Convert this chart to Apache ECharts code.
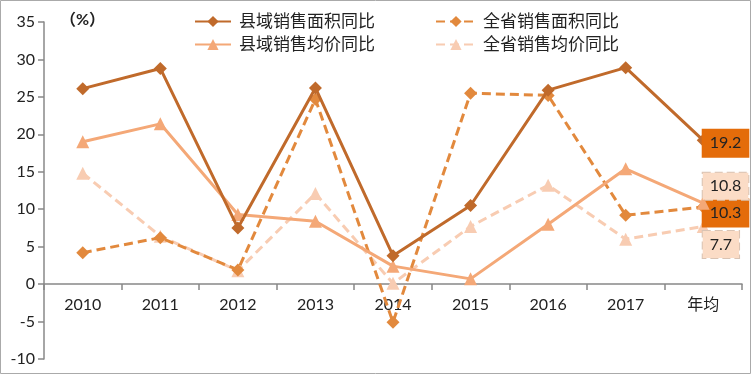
<!DOCTYPE html>
<html><head><meta charset="utf-8">
<script src="https://cdn.jsdelivr.net/npm/echarts@6/dist/echarts.min.js"></script>
<style>html,body{margin:0;padding:0;background:#fff}#c{width:752px;height:375px}</style>
</head><body><div id="c"></div>
<script>
var categories = ['2010','2011','2012','2013','2014','2015','2016','2017','年均'];
var countyArea = [26.1, 28.8, 7.5, 26.2, 3.8, 10.5, 25.9, 28.9, 19.2];
var provArea = [4.2, 6.2, 1.9, 24.7, -5.1, 25.5, 25.2, 9.2, 10.3];
var countyPrice = [19.0, 21.4, 9.3, 8.4, 2.4, 0.7, 8.0, 15.4, 10.8];
var provPrice = [14.8, 6.4, 1.8, 12.1, 0.1, 7.7, 13.2, 6.0, 7.7];
var names = ['县域销售面积同比','县域销售均价同比','全省销售面积同比','全省销售均价同比'];
var yTicks = {min: -10, max: 35, interval: 5};

var FONT = 'Lato, "Noto Sans CJK SC", sans-serif';
function withLabel(arr, bg, dashed, dy){
  return arr.map(function(v,i){
    if(i !== arr.length-1) return v;
    return {value: v, label: {show: true, position: 'right', distance: -7, offset:[0, dy],
      formatter: function(p){return p.value.toFixed(1);},
      backgroundColor: bg, borderColor: dashed ? '#d9c3b3' : bg, borderWidth: 1,
      borderType: dashed ? 'dashed' : 'solid',
      padding: [6, 7, 5, 7],
      color: '#222', fontSize: 16, fontFamily: FONT}};
  });
}
var c1 = '#C06A2B', c2 = '#E2893D', c3 = '#F4A877', c4 = '#F8CCB2';
var chart = echarts.init(document.getElementById('c'));
chart.setOption({
  animation: false,
  grid: {left: 44, right: 10, top: 22, bottom: 16, containLabel: false, outerBoundsMode: 'none'},
  legend: [
    {left: 189, top: 8, orient: 'vertical', itemGap: 6, itemWidth: 36, itemHeight: 14,
     textStyle: {fontSize: 17, color: '#222', fontFamily: FONT, padding: [0, 0, 0, 3]}, data: [names[0], names[1]]},
    {left: 430, top: 8, orient: 'vertical', itemGap: 6, itemWidth: 40, itemHeight: 14,
     textStyle: {fontSize: 17, color: '#222', fontFamily: FONT, padding: [0, 0, 0, 2]}, data: [names[2], names[3]]}
  ],
  xAxis: {type: 'category', data: categories, boundaryGap: true, offset: -75,
    axisLine: {onZero: false, lineStyle: {color: '#888', width: 1.5}},
    axisTick: {show: true, length: 6, lineStyle: {color: '#888', width: 1.5}},
    axisLabel: {color: '#222', fontSize: 16, fontFamily: FONT, margin: 13}},
  yAxis: {type: 'value', min: yTicks.min, max: yTicks.max, interval: yTicks.interval,
    splitLine: {show: false},
    axisLine: {show: true, lineStyle: {color: '#888', width: 1.5}},
    axisTick: {show: true, length: 6, lineStyle: {color: '#888', width: 1.5}},
    axisLabel: {color: '#222', fontSize: 16, fontFamily: FONT, margin: 9}},
  graphic: [
    {type: 'text', left: 60, top: 12, style: {text: '（%）', fontSize: 16, fill: '#222', fontFamily: FONT, fontWeight: 'bold'}},
    {type: 'rect', shape: {x: 0.5, y: 0.5, width: 750, height: 373}, style: {fill: 'none', stroke: '#aaa', lineWidth: 1}}
  ],
  series: [
    {name: names[2], type: 'line', data: withLabel(provArea, '#E46C0A', false, 6), symbol: 'diamond', symbolSize: 13,
     lineStyle: {color: c2, width: 3, type: [9, 5]}, itemStyle: {color: c2}, z: 3},
    {name: names[3], type: 'line', data: withLabel(provPrice, '#FBDCC6', true, 18), symbol: 'triangle', symbolSize: 13,
     lineStyle: {color: c4, width: 3, type: [9, 5]}, itemStyle: {color: c4}, z: 2},
    {name: names[1], type: 'line', data: withLabel(countyPrice, '#FBDCC6', true, -17), symbol: 'triangle', symbolSize: 13,
     lineStyle: {color: c3, width: 3}, itemStyle: {color: c3}, z: 4},
    {name: names[0], type: 'line', data: withLabel(countyArea, '#E46C0A', false, 3), symbol: 'diamond', symbolSize: 13,
     lineStyle: {color: c1, width: 3}, itemStyle: {color: c1}, z: 5}
  ]
});
</script></body></html>
